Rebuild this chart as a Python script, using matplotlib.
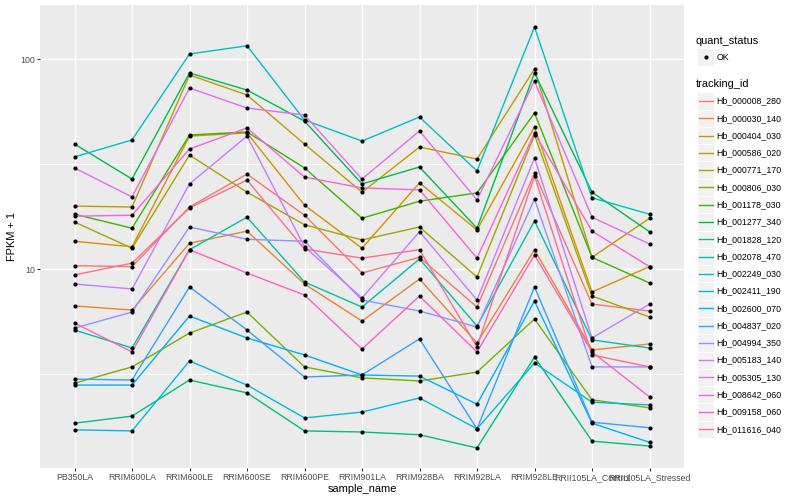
import numpy as np
import matplotlib
matplotlib.use("Agg")
import matplotlib.pyplot as plt
from matplotlib.patches import Rectangle
from matplotlib.lines import Line2D
from matplotlib.ticker import FixedLocator, NullFormatter

plt.rcParams['font.family'] = ['Liberation Sans', 'DejaVu Sans']

samples = ["PB350LA", "RRIM600LA", "RRIM600LE", "RRIM600SE", "RRIM600PE",
           "RRIM901LA", "RRIM928BA", "RRIM928LA", "RRIM928LE",
           "RRII105LA_Control", "RRII105LA_Stressed"]

tracking_ids = ["Hb_000008_280", "Hb_000030_140", "Hb_000404_030", "Hb_000586_020",
                "Hb_000771_170", "Hb_000806_030", "Hb_001178_030", "Hb_001277_340",
                "Hb_001828_120", "Hb_002078_470", "Hb_002249_030", "Hb_002411_190",
                "Hb_002600_070", "Hb_004837_020", "Hb_004994_350", "Hb_005183_140",
                "Hb_005305_130", "Hb_008642_060", "Hb_009158_060", "Hb_011616_040"]

# ggplot hue palette, 20 levels
colours = ["#F8766D", "#EA8331", "#D89000", "#C09B00", "#A3A500", "#7CAE00",
           "#39B600", "#00BB4E", "#00BF7D", "#00C1A3", "#00BFC4", "#00BAE0",
           "#00B0F6", "#35A2FF", "#9590FF", "#C77CFF", "#E76BF3", "#FA62DB",
           "#FF62BC", "#FF6C91"]

# FPKM + 1, one list per gene, in sample order
fpkm_p1 = {
    "Hb_000008_280": [10.4, 10.3, 19.8, 28.4, 18.1, 9.6, 11.4, 6.61, 28.7, 6.83, 6.33],
    "Hb_000030_140": [6.69, 6.40, 13.3, 15.2, 8.51, 5.67, 8.99, 4.46, 12.4, 4.13, 4.41],
    "Hb_000404_030": [13.6, 12.8, 43.1, 44.6, 20.2, 12.6, 25.8, 15.4, 47.6, 7.80, 10.3],
    "Hb_000586_020": [20.0, 19.8, 84.2, 67.6, 39.5, 23.3, 38.2, 33.5, 89.9, 11.4, 17.5],
    "Hb_000771_170": [16.8, 12.6, 35.0, 23.3, 16.3, 13.8, 15.9, 9.19, 43.6, 7.46, 5.93],
    "Hb_000806_030": [2.87, 3.43, 4.97, 6.26, 3.43, 3.04, 2.94, 3.24, 5.80, 2.39, 2.19],
    "Hb_001178_030": [18.3, 15.7, 43.6, 45.1, 30.4, 17.5, 21.1, 23.1, 55.5, 11.4, 8.61],
    "Hb_001277_340": [39.5, 26.9, 86.1, 71.4, 50.8, 25.5, 30.7, 15.7, 86.1, 23.3, 15.1],
    "Hb_001828_120": [1.85, 2.00, 2.97, 2.58, 1.70, 1.68, 1.63, 1.41, 3.82, 1.52, 1.44],
    "Hb_002078_470": [5.14, 4.22, 12.4, 17.7, 8.70, 6.61, 11.2, 5.37, 17.0, 4.61, 4.22],
    "Hb_002249_030": [34.3, 41.3, 106.0, 116.0, 51.4, 40.8, 53.1, 29.4, 142.5, 21.9, 18.3],
    "Hb_002411_190": [1.72, 1.70, 3.66, 2.81, 1.96, 2.09, 2.44, 1.74, 3.58, 2.33, 2.26],
    "Hb_002600_070": [2.81, 2.81, 5.99, 4.71, 3.91, 3.14, 3.10, 2.28, 7.06, 1.85, 1.50],
    "Hb_004837_020": [3.00, 2.97, 8.24, 5.14, 3.07, 3.14, 4.66, 1.74, 8.24, 1.87, 1.76],
    "Hb_004994_350": [5.25, 6.26, 15.9, 13.9, 13.6, 7.14, 6.33, 5.31, 21.6, 3.43, 3.43],
    "Hb_005183_140": [8.51, 8.06, 25.5, 43.1, 12.8, 7.30, 15.1, 7.14, 33.9, 4.71, 6.83],
    "Hb_005305_130": [30.4, 22.1, 73.0, 58.6, 54.3, 26.9, 45.6, 21.4, 78.8, 17.7, 13.2],
    "Hb_008642_060": [17.9, 18.1, 37.4, 47.1, 27.5, 24.4, 23.9, 11.3, 44.6, 15.2, 10.3],
    "Hb_009158_060": [5.55, 4.04, 12.4, 9.6, 7.54, 4.17, 7.46, 4.04, 11.7, 4.04, 2.47],
    "Hb_011616_040": [9.40, 10.7, 19.6, 26.6, 12.5, 11.3, 12.4, 4.27, 27.8, 3.91, 3.43],
}

W, H = 800, 500
fig = plt.figure(figsize=(8, 5), dpi=100)
fig.patch.set_facecolor("white")


def fx(px):
    return px / W


def fy(py):
    return 1 - py / H


ax = fig.add_axes([fx(40), fy(468), fx(644), 463 / H])
ax.set_facecolor("#EBEBEB")
for s in ax.spines.values():
    s.set_visible(False)

x = np.arange(1, len(samples) + 1)
for gid, col in zip(tracking_ids, colours):
    ax.plot(x, fpkm_p1[gid], color=col, lw=1.0, zorder=2)
for gid in tracking_ids:
    ax.plot(x, fpkm_p1[gid], "o", color="black", ms=3.0, mew=0, zorder=3)

ax.set_yscale("log")
ax.set_ylim(1.132, 181.4)
ax.set_xlim(0.4, len(samples) + 0.6)

ax.set_xticks(x)
ax.set_xticklabels(samples)
ax.yaxis.set_major_locator(FixedLocator([10, 100]))
ax.set_yticklabels(["10", "100"])
ax.yaxis.set_minor_locator(FixedLocator([10 ** 0.5, 10 ** 1.5]))
ax.yaxis.set_minor_formatter(NullFormatter())
ax.xaxis.set_minor_locator(FixedLocator([]))

ax.grid(which="major", color="white", lw=1.05)
ax.grid(which="minor", axis="y", color="white", lw=0.55)
ax.set_axisbelow(True)

ax.tick_params(axis="both", which="major", length=2.0, width=0.75,
               color="#333333", labelcolor="#4D4D4D", labelsize=6.3, pad=1.6)
ax.tick_params(axis="both", which="minor", length=0)

fig.text(fx(362), fy(489), "sample_name", ha="center", va="center", fontsize=7.9)
fig.text(fx(12.5), fy(236.5), "FPKM + 1", ha="center", va="center",
         rotation=90, fontsize=7.9)

# legend: quant_status
key = 17.28
kx = 697
fig.text(fx(696), fy(41), "quant_status", ha="left", va="center", fontsize=7.9)
cy = 57
fig.add_artist(Rectangle((fx(kx), fy(cy + key / 2)), key / W, key / H,
                         transform=fig.transFigure, facecolor="#F2F2F2",
                         edgecolor="white", lw=0.6))
fig.add_artist(Line2D([fx(kx + key / 2)], [fy(cy)], marker="o", color="black",
                      ms=3.0, mew=0, transform=fig.transFigure))
fig.text(fx(716.5), fy(cy), "OK", ha="left", va="center", fontsize=6.3)

# legend: tracking_id
fig.text(fx(696), fy(84), "tracking_id", ha="left", va="center", fontsize=7.9)
for i, (gid, col) in enumerate(zip(tracking_ids, colours)):
    cy = 101 + key * i
    fig.add_artist(Rectangle((fx(kx), fy(cy + key / 2)), key / W, key / H,
                             transform=fig.transFigure, facecolor="#F2F2F2",
                             edgecolor="white", lw=0.6))
    fig.add_artist(Line2D([fx(kx + 1.7), fx(kx + key - 1.7)], [fy(cy), fy(cy)],
                          color=col, lw=1.0, transform=fig.transFigure))
    fig.text(fx(716.5), fy(cy), gid, ha="left", va="center", fontsize=6.3)

fig.savefig("out.png", dpi=100)
